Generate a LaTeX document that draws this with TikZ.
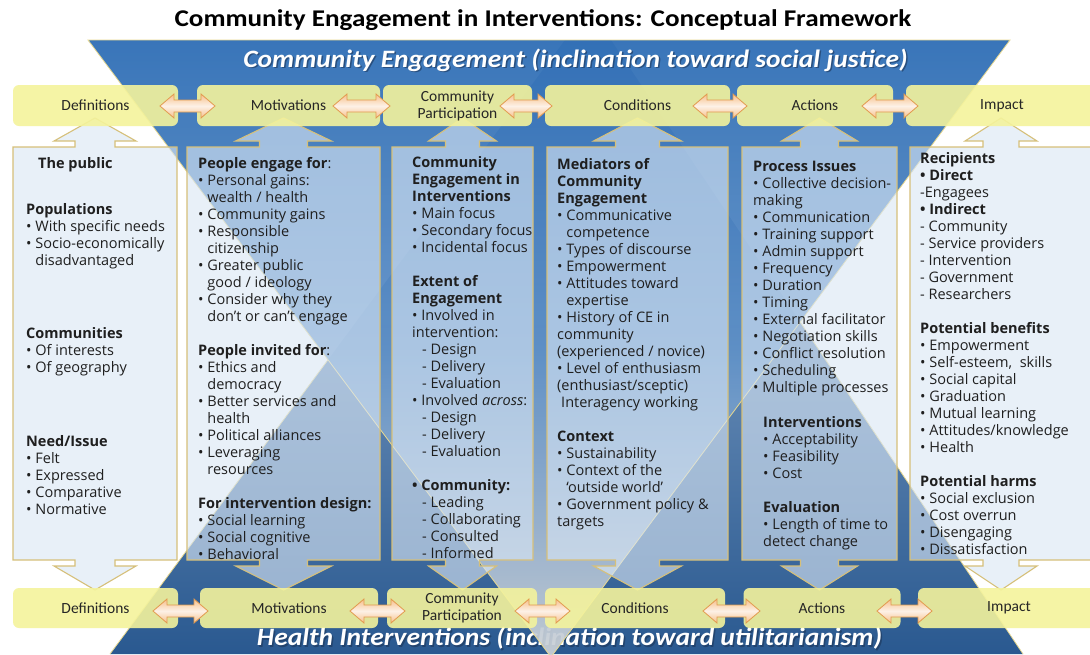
\documentclass[tikz,border=0pt]{standalone}
\usepackage{fontspec}
\setmainfont{Open Sans}
\newfontfamily\calfont{Carlito}
\definecolor{tonetop}{HTML}{2B6BB4}
\definecolor{tonemid}{HTML}{5E90C7}
\definecolor{tonebot}{HTML}{CDD2D7}
\definecolor{ttwotop}{HTML}{9DB9D8}
\definecolor{ttwobot}{HTML}{2A5990}
\definecolor{colf}{HTML}{DAE7F5}
\definecolor{colb}{HTML}{D6C07A}
\definecolor{labf}{HTML}{F4F39C}
\definecolor{labt}{HTML}{262626}
\definecolor{arrb}{HTML}{E29A4E}
\definecolor{arrf}{HTML}{F6C08A}
\definecolor{arrm}{HTML}{FDF1E7}
\definecolor{triedge}{HTML}{E9D98F}
\definecolor{txtc}{HTML}{1F1F1F}
\definecolor{shadowc}{HTML}{1C3558}
\newcommand\hind{\phantom{•\ }}
\newcommand\colshape[5]{%
  \pgfmathsetmacro\colc{(#1+#2)/2}
  \draw[colbox] (#1,147) -- (\colc-#4,147) -- (\colc-#4,141) -- (\colc-#3,141) -- (\colc,118) -- (\colc+#3,141) -- (\colc+#4,141) -- (\colc+#4,147) -- (#2,147) -- (#2,560) -- (\colc+#4,560) -- (\colc+#4,566) -- (\colc+#3,566) -- (\colc,590) -- (\colc-#3,566) -- (\colc-#4,566) -- (\colc-#4,560) -- (#1,560) -- cycle;
  \coordinate (#5) at (\colc,350);}
\newcommand\dblarrow[3]{%
  \draw[dblarr] (#1,#3) -- (#1+14,#3-12) -- (#1+14,#3-6) -- (#2-14,#3-6) -- (#2-14,#3-12) -- (#2,#3) -- (#2-14,#3+12) -- (#2-14,#3+6) -- (#1+14,#3+6) -- (#1+14,#3+12) -- cycle;}
\begin{document}
\begin{tikzpicture}[x=1pt,y=-1pt,
  colbox/.style={draw=colb, line width=1.1pt, fill=colf, fill opacity=0.62, draw opacity=1},
  lab/.style={fill=labf, fill opacity=0.9, text opacity=1, rounded corners=6pt, inner sep=0pt, text=labt, font=\calfont\fontsize{15.5}{17}\selectfont, align=center},
  dblarr/.style={draw=arrb, line width=0.8pt, top color=arrf, bottom color=arrf, middle color=arrm},
  txt/.style={anchor=base west, inner sep=0pt, text=txtc, font=\fontsize{14.5}{17}\selectfont},
  banner/.style={font=\calfont\bfseries\itshape\fontsize{25}{28}\selectfont, inner sep=0pt},
  tri/.style={draw=triedge, line width=0.8pt}]
\useasboundingbox (0,0) rectangle (1090,654);
\clip (0,0) rectangle (1090,654);
\fill[white] (0,0) rectangle (1090,654);
% bottom triangle (health interventions)
\path[top color=ttwotop, bottom color=ttwobot] (110,654) -- (1023,654) -- (611,40) -- (565,40) -- cycle;
\node[banner, text=shadowc, opacity=0.6] at (571,640) {\scalebox{1.1}[1]{Health Interventions (inclination toward utilitarianism)}};
\node[banner, text=white] (banbot) at (569.5,638.5) {\scalebox{1.1}[1]{Health Interventions (inclination toward utilitarianism)}};
% top triangle (community engagement)
\path[tri, fill opacity=0.93, top color=tonetop, bottom color=tonebot, middle color=tonemid] (88,40) -- (1010,40) -- (551,657) -- cycle;
\coordinate (xl) at (328,359.8);
\coordinate (xr) at (800.2,322);
\draw[tri] (110,654) -- (xl);
\draw[tri] (1023,654) -- (xr);
\node[banner, text=shadowc, opacity=0.6] at (577,61.5) {\scalebox{1.1}[1]{Community Engagement (inclination toward social justice)}};
\node[banner, text=white] (bantop) at (575.5,60) {\scalebox{1.1}[1]{Community Engagement (inclination toward social justice)}};
% columns
\colshape{13}{177}{41}{20}{k1}
\colshape{187}{380}{48}{24}{k2}
\colshape{392}{533}{34}{17}{k3}
\colshape{547}{728}{44}{22}{k4}
\colshape{742}{897}{38}{19}{k5}
\colshape{910}{1092}{36}{18}{k6}
% top labels
\node[lab, minimum width=165pt, minimum height=41pt] (tdef) at (95.5,105.5) {Definitions};
\node[lab, minimum width=183pt, minimum height=41pt] (tmot) at (288.5,105.5) {Motivations};
\node[lab, minimum width=149pt, minimum height=41pt] (tcp) at (457.5,105.5) {Community\\Participation};
\node[lab, minimum width=185pt, minimum height=41pt] (tcon) at (637.5,105.5) {Conditions};
\node[lab, minimum width=156pt, minimum height=41pt] (tact) at (815,105.5) {Actions};
\node[lab, minimum width=192pt, minimum height=41pt] (timp) at (1002,105.5) {Impact};
% bottom labels
\node[lab, minimum width=165pt, minimum height=40pt] (bdef) at (95.5,608) {Definitions};
\node[lab, minimum width=178pt, minimum height=40pt] (bmot) at (289,608) {Motivations};
\node[lab, minimum width=150pt, minimum height=40pt] (bcp) at (462,608) {Community\\Participation};
\node[lab, minimum width=180pt, minimum height=40pt] (bcon) at (635,608) {Conditions};
\node[lab, minimum width=157pt, minimum height=40pt] (bact) at (822,608) {Actions};
\node[lab, minimum width=182pt, minimum height=40pt] (bimp) at (1009,608) {Impact};
% double arrows
\dblarrow{160}{215}{106}
\dblarrow{333}{390}{106}
\dblarrow{500}{552}{106}
\dblarrow{693}{747}{106}
\dblarrow{862}{918}{106}
\dblarrow{153}{208}{611}
\dblarrow{350}{405}{611}
\dblarrow{515}{570}{611}
\dblarrow{703}{760}{611}
\dblarrow{877}{932}{611}
% column texts
\node[txt] (c1) at (26,168) {\begin{tabular}[t]{@{}l@{}}
\hspace{12pt}\textbf{The public}\\[29pt]
\textbf{Populations}\\
• With specific needs\\
• Socio-economically\\
\hind disadvantaged\\[56pt]
\textbf{Communities}\\
• Of interests\\
• Of geography\\[57pt]
\textbf{Need/Issue}\\
• Felt\\
• Expressed\\
• Comparative\\
• Normative
\end{tabular}};
\node[txt] (c2) at (198,168) {\begin{tabular}[t]{@{}l@{}}
\textbf{People engage for}:\\
• Personal gains:\\
\hind wealth / health\\
• Community gains\\
• Responsible\\
\hind citizenship\\
• Greater public\\
\hind good / ideology\\
• Consider why they\\
\hind don’t or can’t engage\\
\\
\textbf{People invited for}:\\
• Ethics and\\
\hind democracy\\
• Better services and\\
\hind health\\
• Political alliances\\
• Leveraging\\
\hind resources\\
\\
\textbf{For intervention design:}\\
• Social learning\\
• Social cognitive\\
• Behavioral
\end{tabular}};
\node[txt] (c3) at (412,167) {\begin{tabular}[t]{@{}l@{}}
\textbf{Community}\\
\textbf{Engagement in}\\
\textbf{Interventions}\\
• Main focus\\
• Secondary focus\\
• Incidental focus\\
\\
\textbf{Extent of}\\
\textbf{Engagement}\\
• Involved in\\
intervention:\\
\hspace{10pt}- Design\\
\hspace{10pt}- Delivery\\
\hspace{10pt}- Evaluation\\
• Involved \textit{across}:\\
\hspace{10pt}- Design\\
\hspace{10pt}- Delivery\\
\hspace{10pt}- Evaluation\\
\\
\textbf{• Community:}\\
\hspace{10pt}- Leading\\
\hspace{10pt}- Collaborating\\
\hspace{10pt}- Consulted\\
\hspace{10pt}- Informed
\end{tabular}};
\node[txt] (c4) at (557,169) {\begin{tabular}[t]{@{}l@{}}
\textbf{Mediators of}\\
\textbf{Community}\\
\textbf{Engagement}\\
• Communicative\\
\hind competence\\
• Types of discourse\\
• Empowerment\\
• Attitudes toward\\
\hind expertise\\
• History of CE in\\
community\\
(experienced / novice)\\
• Level of enthusiasm\\
(enthusiast/sceptic)\\
\hspace{4pt}Interagency working\\
\\
\textbf{Context}\\
• Sustainability\\
• Context of the\\
\hind ‘outside world’\\
• Government policy \&\\
targets
\end{tabular}};
\node[txt] (c5) at (753,171) {\begin{tabular}[t]{@{}l@{}}
\textbf{Process Issues}\\
• Collective decision-\\
making\\
• Communication\\
• Training support\\
• Admin support\\
• Frequency\\
• Duration\\
• Timing\\
• External facilitator\\
• Negotiation skills\\
• Conflict resolution\\
• Scheduling\\
• Multiple processes\\[18pt]
\hspace{10pt}\textbf{Interventions}\\
\hspace{10pt}• Acceptability\\
\hspace{10pt}• Feasibility\\
\hspace{10pt}• Cost\\
\\
\hspace{10pt}\textbf{Evaluation}\\
\hspace{10pt}• Length of time to\\
\hspace{10pt}detect change
\end{tabular}};
\node[txt] (c6) at (920,163) {\begin{tabular}[t]{@{}l@{}}
\textbf{Recipients}\\
\textbf{• Direct}\\
-Engagees\\
\textbf{• Indirect}\\
- Community\\
- Service providers\\
- Intervention\\
- Government\\
- Researchers\\
\\
\textbf{Potential benefits}\\
• Empowerment\\
• Self-esteem,\ \ skills\\
• Social capital\\
• Graduation\\
• Mutual learning\\
• Attitudes/knowledge\\
• Health\\
\\
\textbf{Potential harms}\\
• Social exclusion\\
• Cost overrun\\
• Disengaging\\
• Dissatisfaction
\end{tabular}};
% title
\node[font=\calfont\bfseries\fontsize{24}{26}\selectfont, inner sep=0pt] (title) at (543,20) {\scalebox{1.13}[1]{Community Engagement in Interventions: Conceptual Framework}};
\end{tikzpicture}
\end{document}
